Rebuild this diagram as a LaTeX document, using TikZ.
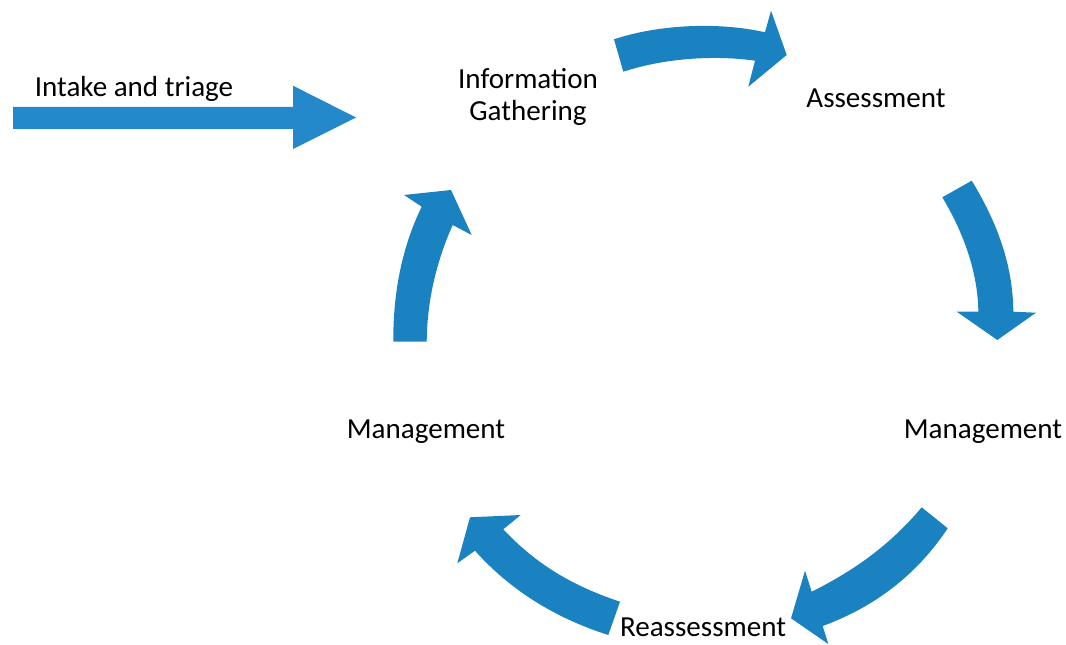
\documentclass[tikz,border=0pt]{standalone}
\usepackage{fontspec}
\setmainfont{Carlito}
\begin{document}
\begin{tikzpicture}[x=0.75pt,y=-0.75pt,
  lbl/.style={inner sep=0pt,font=\fontsize{21.8}{24}\selectfont,text=black},
  blk/.style={fill=arrowblue,draw=none},
  blkstraight/.style={fill=arrowblue2,draw=none}]
\definecolor{arrowblue}{HTML}{1A82C0}
\definecolor{arrowblue2}{HTML}{2489CB}
\useasboundingbox (0,0) rectangle (1066,645);
% labels
\node[lbl] (intake) at (134,89) {Intake and triage};
\node[lbl,align=center] (info) at (528,97) {Information\\Gathering};
\node[lbl] (assess) at (876,98) {Assessment};
\node[lbl] (mgmtR) at (983,432) {Management};
\node[lbl] (mgmtL) at (426,432) {Management};
\node[lbl] (reass) at (703,627) {Reassessment};
% straight arrow
\fill[blkstraight] (13,107) -- (293,107) -- (293,85.7) -- (356,117.5) -- (293,149) -- (293,129) -- (13,129) -- cycle;
% top arrow
\fill[blk] (614,39.3) .. controls (660,24) and (720,22) .. (765,32.3)
  -- (771,10.7) -- (786.7,55) -- (748.3,86.7) -- (755,60.7)
  .. controls (715,55) and (665,58) .. (623.3,71.7) -- cycle;
% right arrow
\fill[blk] (971.7,180.7) .. controls (997,222) and (1013,265) .. (1013.3,311.7)
  -- (1036,312.7) -- (997.3,340) -- (956.7,311.7) -- (978.3,311.7)
  .. controls (978,275) and (965,235) .. (942.3,197.3) -- cycle;
% lower right arrow
\fill[blk] (947.7,528.3) .. controls (920,570) and (880,605) .. (822.7,626)
  -- (828.3,644) -- (791,618.3) -- (805,570.7) -- (811.7,591.7)
  .. controls (855,570) and (890,545) .. (921.7,507.3) -- cycle;
% bottom left arrow
\fill[blk] (608.3,635) .. controls (555,618) and (510,590) .. (475,550.7)
  -- (457.3,563.3) -- (470,517.3) -- (520.7,515) -- (503.3,529.3)
  .. controls (535,563) and (570,585) .. (620,601.7) -- cycle;
% left arrow
\fill[blk] (393.3,341.7) .. controls (393,290) and (403,245) .. (421.7,206.7)
  -- (404,195) -- (451,190) -- (471.7,235) -- (452.7,225)
  .. controls (437,260) and (427,300) .. (426.7,341.7) -- cycle;
\end{tikzpicture}
\end{document}
